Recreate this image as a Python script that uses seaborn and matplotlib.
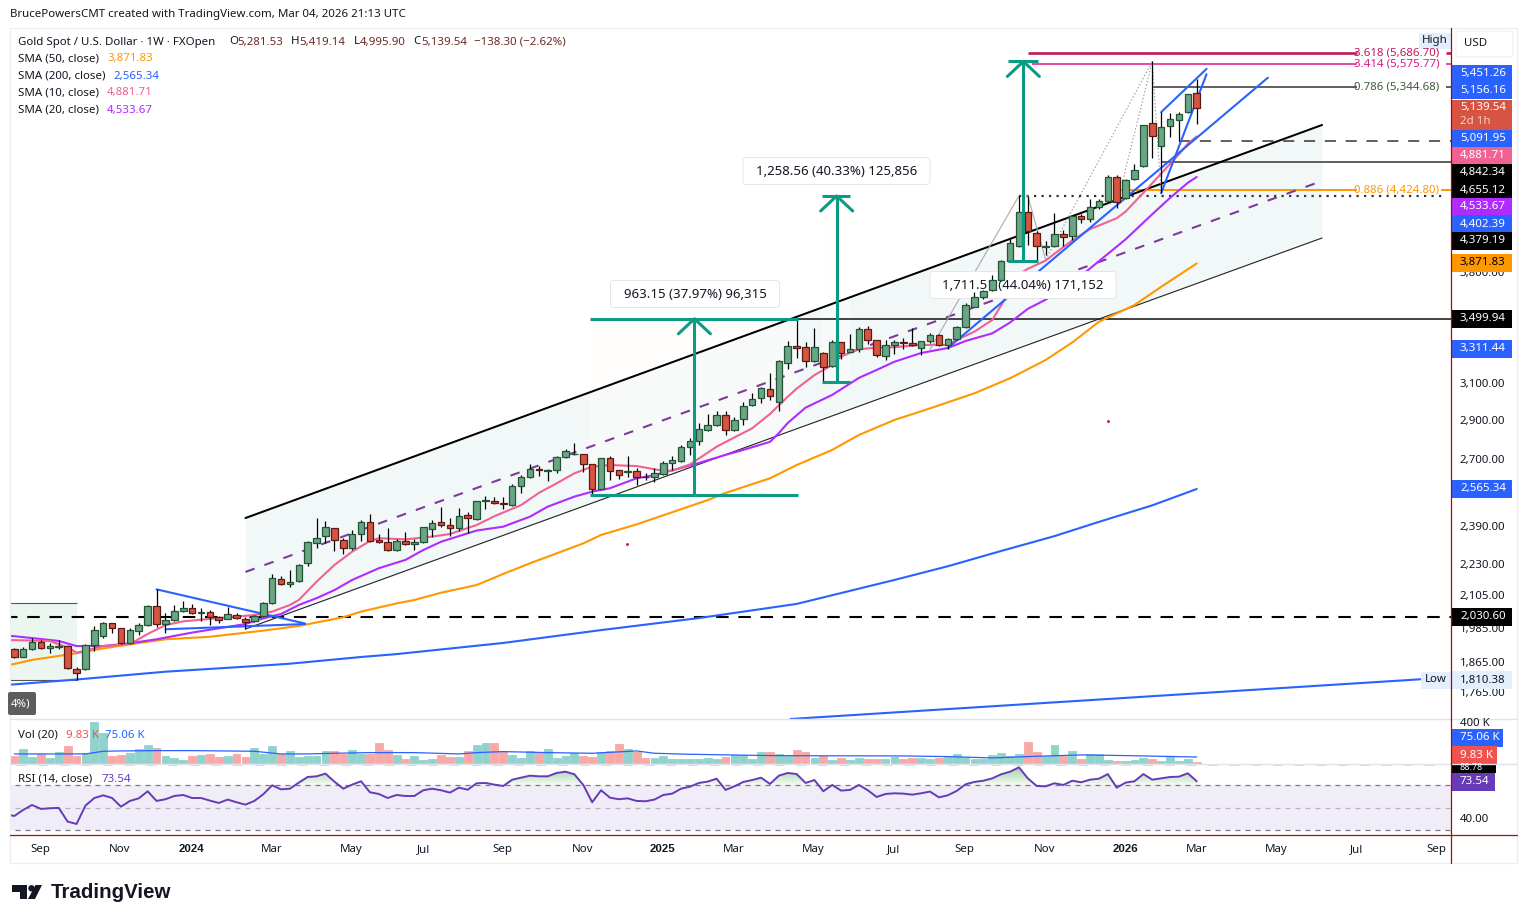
import numpy as np
import pandas as pd
import matplotlib
matplotlib.use("Agg")
import matplotlib.pyplot as plt
import seaborn as sns
from matplotlib.patches import FancyBboxPatch, Rectangle, Circle, Polygon
from matplotlib.ticker import NullLocator, NullFormatter
from matplotlib.transforms import Affine2D

# Weekly XAU/USD candles
opens = [1915,1889,1915,1939,1918,1922,1925,1848,1846,1929,
         1963,2008,1990,1936,1979,2000,2071,2004,2019,2052,
         2063,2045,2049,2030,2025,2038,2022,2015,2033,2082,
         2176,2156,2168,2240,2323,2353,2388,2336,2302,2362,
         2414,2336,2328,2294,2332,2319,2328,2384,2414,2401,
         2388,2445,2427,2511,2509,2501,2493,2578,2621,2660,
         2650,2655,2718,2734,2734,2684,2564,2713,2655,2648,
         2650,2624,2621,2636,2689,2699,2768,2799,2856,2882,
         2935,2856,2913,2989,3027,3077,3005,3227,3329,3323,
         3239,3287,3209,3353,3296,3311,3434,3365,3269,3335,
         3353,3347,3317,3359,3396,3335,3372,3446,3578,3640,
         3687,3755,3887,3995,4251,4091,3988,3995,4084,4069,
         4220,4197,4294,4337,4532,4361,4515,4623,5001,4795,
         4973,5028,5103,5281.53]
highs = [1918,1922,1954,1947,1936,1947,1930,1853,1933,1998,
         2014,2008,1990,1990,2008,2076,2136,2047,2076,2090,
         2079,2066,2057,2036,2067,2045,2032,2038,2089,2196,
         2189,2213,2237,2332,2435,2420,2388,2345,2379,2423,
         2451,2362,2388,2340,2370,2340,2392,2423,2481,2432,
         2477,2459,2509,2533,2527,2527,2588,2631,2685,2675,
         2659,2723,2758,2790,2734,2684,2713,2725,2655,2725,
         2664,2640,2664,2699,2725,2778,2814,2893,2942,2956,
         2956,2927,3005,3055,3089,3169,3245,3359,3499.94,3353,
         3442,3293,3365,3353,3402,3446,3455,3365,3365,3365,
         3378,3440,3363,3409,3402,3378,3454,3600,3676,3689,
         3791,3897,4047,4379.19,4379,4108,4034,4244,4114,4225,
         4235,4353,4353,4548,4548,4515,4640,4983,5597.5,5103,
         5094,5103,5272,5419.14]
lows = [1886,1887,1912,1915,1903,1915,1846,1810,1844,1910,
        1956,1974,1933,1933,1966,1998,1995,1974,2016,2050,
        2042,2017,2002,2010,2022,2022,1986,2014,2032,2080,
        2153,2147,2165,2230,2305,2326,2292,2280,2295,2334,
        2328,2323,2291,2291,2315,2295,2323,2350,2395,2355,
        2376,2369,2424,2475,2496,2473,2489,2548,2616,2627,
        2605,2640,2713,2729,2648,2536.6,2564,2608,2613,2624,
        2582,2608,2600,2631,2656,2693,2730,2778,2850,2878,
        2831,2850,2883,2986,3003,3018,2960,3194,3260,3205,
        3235,3120.6,3207,3251,3293,3296,3344,3263,3247,3281,
        3312,3329,3275,3351,3331,3311,3367,3442,3574,3629,
        3682,3750,3882,3990,4005,3886,3932,3990,3995,4041,
        4166,4174,4274,4329,4282,4355,4509,4615,4691,4402.39,
        4875,4842.34,5094,4995.90]
closes = [1889,1915,1939,1918,1925,1926,1849,1832,1929,1983,
          2008,1992,1936,1982,2000,2071,2004,2019,2052,2063,
          2045,2049,2030,2019,2041,2026,2011,2036,2082,2180,
          2156,2164,2233,2328,2345,2392,2336,2302,2362,2414,
          2332,2328,2294,2332,2319,2328,2392,2409,2401,2388,
          2441,2432,2509,2514,2502,2498,2578,2621,2659,2657,
          2655,2718,2748,2735,2684,2564,2713,2650,2631,2651,
          2621,2621,2640,2689,2703,2768,2799,2861,2882,2935,
          2856,2908,2984,3022,3083,3038,3239,3329,3317,3239,
          3323,3204,3353,3287,3311,3434,3365,3275,3335,3353,
          3347,3335,3359,3396,3335,3372,3446,3587,3640,3680,
          3755,3887,4017,4251,4106,4000,3995,4084,4061,4220,
          4197,4294,4337,4532,4329,4507,4590,4983,4884,4964,
          5037,5084,5272,5139.54]
volumes_k = [92,172,80,108,68,136,212,92,120,496,
             364,92,104,128,172,224,184,92,68,40,
             92,100,116,80,92,116,80,188,116,212,
             116,148,80,92,92,148,148,116,160,116,
             116,244,160,100,52,88,40,52,100,76,
             76,148,220,244,244,148,100,64,148,136,
             172,64,88,124,88,76,136,148,232,172,
             136,64,64,88,52,52,52,52,64,52,
             76,100,100,52,136,136,112,88,160,136,
             64,88,40,64,40,64,52,52,52,76,
             52,64,64,52,64,88,112,76,52,52,
             100,124,88,112,256,136,88,220,88,148,
             52,112,112,40,28,28,40,64,52,28,
             76,28,52,9.83]
# the oscillator starts one week before the first visible candle
rsi_values = [44.5,42.7,48.1,52.5,49,49.6,49.9,37.7,35.6,51.9,58.7,
              61.1,58.7,51,56.1,58.4,64.7,56.1,57.6,60.5,61.4,
              58.7,58.7,56.4,54.3,57.3,54.9,52.8,56.1,62,70,
              66.4,67,72.4,77.4,78,80.4,73.3,67,70.6,73.6,
              63.8,62.3,58.7,61.4,60.5,60.5,65.6,67,65.6,63.5,
              67.9,66.1,71.8,72.1,70.6,69.4,75,76.8,78.6,78,
              78,81,82.1,79.8,70.3,54.9,65.6,59,57.6,58.4,
              56.1,55.8,57.3,61.4,62.6,67,68.8,72.1,73.3,75.9,
              65.9,69.1,73,74.7,76.8,71.2,78.6,81,80,72.1,
              74.7,64.7,70.3,65.3,65.9,70.3,65.6,59.6,62.3,62.9,
              62.6,61.7,62.9,64.4,59.3,61.1,65,70.9,73,74.1,
              76.2,79.8,82.1,86,76.2,69.4,69.1,71.8,70.3,74.1,
              72.7,75,75.9,80,67.9,72.4,73.6,80,75,76.2,
              77.4,77.7,80.7,73.54]

# Moving averages, read at selected weeks
sma10_weeks = [-1,0,4,6,7,8,10,13,15,17,19,24,27,29,31,32,34,36,38,40,41,44,47,49,52,54,57,59,61,63,65,67,70,73,74,76,79,80,83,85,87,88,90,92,93,95,97,99,102,105,106,108,110,111,113,114,116,117,119,121,124,125,127,129,131,132,133]
sma10_vals = [1947,1947,1944,1921,1903,1910,1926,1933,1969,2001,2015,2030,2038,2051,2076,2095,2166,2233,2288,2333,2345,2340,2352,2363,2402,2441,2491,2547,2592,2640,2672,2680,2675,2652,2652,2683,2771,2795,2866,2942,3036,3081,3158,3217,3267,3311,3320,3323,3337,3337,3367,3419,3492,3586,3797,3834,3892,3941,4038,4122,4205,4256,4405,4562,4725,4818,4881.71]
sma20_weeks = [-1,0,3,5,7,10,13,16,20,26,28,30,32,34,36,38,41,44,46,48,52,55,58,60,63,65,67,70,72,75,77,80,82,85,86,87,89,92,95,97,99,102,105,107,110,112,114,116,118,120,123,125,128,130,132,133]
sma20_vals = [1963,1961,1951,1944,1926,1926,1936,1950,1974,2005,2026,2042,2076,2102,2133,2173,2220,2254,2295,2330,2378,2395,2439,2484,2530,2553,2569,2616,2631,2666,2690,2730,2755,2796,2841,2894,2976,3046,3142,3188,3236,3288,3318,3361,3408,3476,3564,3624,3700,3786,3940,4046,4236,4364,4486,4533.67]
sma50_weeks = [-1,0,2,4,7,10,13,17,22,28,32,37,39,43,45,48,52,55,58,61,64,66,70,78,80,85,88,92,95,99,103,108,112,116,119,122,126,129,133]
sma50_vals = [1860,1864,1878,1887,1901,1918,1932,1950,1959,1981,1998,2030,2051,2082,2095,2123,2153,2197,2240,2281,2323,2359,2405,2514,2547,2616,2680,2755,2831,2910,2972,3055,3140,3246,3352,3481,3589,3710,3871.83]
sma200_weeks = [-1,0,7,17,25,31,39,43,55,66,77,88,99,105,111,117,122,128,133]
sma200_vals = [1794,1796,1812,1838,1853,1865,1888,1898,1937,1983,2027,2080,2173,2228,2291,2354,2416,2490,2565.34]
vol_sma_weeks = [0,8,10,12,16,20,27,30,33,36,40,45,50,52,55,60,65,70,72,76,85,90,100,105,110,115,120,125,133]
vol_sma_vals = [112,112,144,148,152,152,144,112,112,120,128,128,112,128,140,128,120,148,120,108,92,90,88,80,64,84,100,92,75.06]

price_ticks = [3800,3100,2900,2700,2390,2230,2105,1985,1865,1765]
date_tick_weeks = [2.9,11.9,19.9,28.9,37.9,46,54.9,63.9,72.9,80.9,89.9,98.9,106.9,115.9,125,133,142,151,160]
date_tick_labels = ["Sep","Nov","2024","Mar","May","Jul","Sep","Nov","2025","Mar","May","Jul","Sep","Nov","2026","Mar","May","Jul","Sep"]

W, H = 1527, 923
sns.set_theme(style="white")
plt.rcParams["font.family"] = ["Noto Sans", "DejaVu Sans"]
plt.rcParams["lines.scale_dashes"] = False
plt.rcParams["axes.unicode_minus"] = False

UP, DOWN = "#6ba583", "#d75442"
UP_EDGE, DOWN_EDGE = "#225437", "#5b1a13"
TEAL = "#0b9a82"
BLUE, PINK, PURPLE, ORANGE = "#2962ff", "#f06292", "#b02bff", "#ff9800"
PT = 0.72   # one pixel in points at 100 dpi
FS = 11.5 * PT


def frame(x0, y0, x1, y1):
    return [x0 / W, 1 - y1 / H, (x1 - x0) / W, (y1 - y0) / H]


fig = plt.figure(figsize=(W / 100, H / 100), dpi=100, facecolor="white")
ax = fig.add_axes(frame(10, 28, 1451, 719))
ax_vol = fig.add_axes(frame(10, 719, 1451, 763.5), sharex=ax)
ax_rsi = fig.add_axes(frame(10, 763.5, 1451, 835), sharex=ax)
pixels = Affine2D().scale(1, -1).translate(0, H)

weeks = np.arange(len(closes))
opens, highs, lows, closes = map(np.array, (opens, highs, lows, closes))
is_up = closes >= opens

# ---- price pane ----
ax.set_yscale("log")

# pale zones behind the price
ax.fill_between([-1, 7.06], 1810.38, 2082, color="#ecf6f0", lw=0, zorder=1)
ax.hlines([2082, 1810.38], -1, 7.06, color="#555555", lw=0.8, zorder=1)
channel_x = [26, 147.1]
ax.fill_between(channel_x, [1987, 4056], [2433, 4985], color="#f2f8f8", lw=0, zorder=1)
for x0, x1, lo, hi in [(64.8, 88.2, 2536.6, 3499.75), (90.9, 94, 3120.6, 4379.19), (111.8, 115.1, 3886, 5597.5)]:
    ax.fill_between([x0, x1], lo, hi, color="#fffdfa", alpha=0.45, lw=0, zorder=1.1)

# horizontal levels
ax.hlines(3499.94, 88.2, 163, color="#333333", lw=1.3, zorder=2)
ax.hlines(2030.60, -1, 163, color="black", lw=1.5, ls=(0, (9, 7)), zorder=2)
ax.hlines(5344.68, 128, 151, color="#444444", lw=1.2, zorder=2)
ax.hlines(5344.68, 161, 163, color="#444444", lw=1.2, zorder=2)
ax.hlines(4842.34, 131, 163, color="#444444", lw=1.2, ls=(0, (8, 7)), zorder=2)
ax.hlines(4655.12, 129, 163, color="#444444", lw=1.2, zorder=2)
ax.hlines(4424.80, 124.5, 151, color=ORANGE, lw=1.4, zorder=2)
ax.hlines(4424.80, 160.5, 163, color=ORANGE, lw=1.4, zorder=2)
ax.hlines(4379.19, 113, 161, color="#333333", lw=1.6, ls=(0, (1.6, 3.8)), zorder=2)
ax.hlines(5686.70, 114, 151, color="#c2185b", lw=1.9, zorder=2)
ax.hlines(5686.70, 161, 161.6, color="#c2185b", lw=1.9, zorder=2)
ax.hlines(5575.77, 114.5, 151, color="#d81b8a", lw=1.1, zorder=2)
ax.hlines(5575.77, 161, 161.6, color="#d81b8a", lw=1.1, zorder=2)

# regression channel
ax.plot(channel_x, [2433, 4985], color="black", lw=1.45, zorder=2.2)
ax.plot(channel_x, [1987, 4056], color="#222222", lw=0.8, zorder=2.2)
ax.plot(channel_x, [2205, 4501], color="#7d3c98", lw=1.5, ls=(0, (7, 7.5)), zorder=2.2)

# moving averages
for xs, ys, col, lw in [(sma200_weeks, sma200_vals, BLUE, 1.5),
                        (sma50_weeks, sma50_vals, ORANGE, 1.5),
                        (sma20_weeks, sma20_vals, PURPLE, 1.5),
                        (sma10_weeks, sma10_vals, PINK, 1.5)]:
    sns.lineplot(x=xs, y=ys, ax=ax, color=col, lw=lw, estimator=None, errorbar=None,
                 legend=False, zorder=2.4)

# blue trend lines
for xy in [((16, 2136), (32.7, 2007)), ((17, 1986), (32.7, 2005)), ((105, 3318), (141, 5434)),
           ((129, 4402.39), (134.1, 5468)), ((129, 5103), (134.1, 5522)), ((87.3, 1686), (158.3, 1813))]:
    ax.plot([xy[0][0], xy[1][0]], [xy[0][1], xy[1][1]], color=BLUE, lw=1.5, zorder=2.6)

# fibonacci guide lines
for xy in [((103, 3309), (113, 4379.19)), ((114, 4379.19), (116, 3900))]:
    ax.plot([xy[0][0], xy[1][0]], [xy[0][1], xy[1][1]], color="#aaaaaa", lw=0.8, zorder=2.7)
for xy in [((116, 3900), (128, 5597.5)), ((124.6, 4480), (128, 5597.5)), ((128, 5597.5), (129, 4402.39))]:
    ax.plot([xy[0][0], xy[1][0]], [xy[0][1], xy[1][1]], color="#999999", lw=0.8, ls=(0, (1, 1.5)), zorder=2.7)

# measurement captions sit under the candles
for cx, cy, w, txt in [(695, 294, 169, "963.15 (37.97%) 96,315"),
                       (836.5, 171, 187, "1,258.56 (40.33%) 125,856"),
                       (1023, 285, 186, "1,711.51 (44.04%) 171,152")]:
    ax.add_patch(FancyBboxPatch((cx - w / 2 + 3, cy - 10.5), w - 6, 21, boxstyle="round,pad=3",
                                transform=pixels, fc="white", ec="#e6e6ea", lw=0.7, zorder=3, clip_on=False))
    ax.text(cx, cy + 0.5, txt, transform=pixels, ha="center", va="center", fontsize=13.2 * PT,
            color="#131722", zorder=3.1)

# candles
ax.vlines(weeks, lows, highs, color="black", lw=0.9, zorder=3.5)
for flag, face, edge in [(is_up, UP, UP_EDGE), (~is_up, DOWN, DOWN_EDGE)]:
    body_lo = np.minimum(opens, closes)[flag]
    body_hi = np.maximum(opens, closes)[flag]
    ax.bar(weeks[flag], body_hi - body_lo, bottom=body_lo, width=0.74, color=face,
           edgecolor=edge, linewidth=0.9, zorder=3.6)

# measurement arrows
def measure(x0, x1, xc, lo, hi):
    ax.hlines([lo, hi], x0, x1, color=TEAL, lw=2.2, zorder=4)
    ax.vlines(xc, lo, hi, color=TEAL, lw=2.2, zorder=4)
    drop = np.exp(-15 / 548)
    ax.plot([xc - 1.8, xc, xc + 1.8], [hi * drop, hi, hi * drop], color=TEAL, lw=2.2, zorder=4)


measure(64.8, 88.2, 76.5, 2536.6, 3499.75)
measure(90.9, 94, 92.5, 3120.6, 4379.19)
measure(111.8, 115.1, 113.5, 3886, 5597.5)

# isolated marks
ax.plot([68.9, 123], [2320, 2904], ls="none", marker="o", ms=1.1, color="#c2185b", zorder=2)

ax.set_xlim(-0.484, 161.6)
ax.set_ylim(1686, 5950)
ax.yaxis.tick_right()
ax.set_yticks(price_ticks)
ax.set_yticklabels([f"{v:,.2f}" for v in price_ticks], fontsize=FS, color="#131722")
ax.yaxis.set_minor_locator(NullLocator())
ax.yaxis.set_minor_formatter(NullFormatter())
ax.tick_params(axis="y", length=0, pad=6.4)
ax.tick_params(axis="x", length=0, labelbottom=False)
# the scale's captions sit a touch above their gridline
for tick in ax.yaxis.get_major_ticks():
    tick.label2.set_transform(tick.label2.get_transform() + Affine2D().translate(0, 2))
ax.set_xlabel("")
ax.set_ylabel("")

# ---- volume pane ----
bar_colors = ["#92d2cc" if u else "#f7a9a7" for u in is_up]
ax_vol.bar(weeks, volumes_k, width=0.88, color=bar_colors, linewidth=0.6, edgecolor=bar_colors, zorder=2)
sns.lineplot(x=vol_sma_weeks, y=vol_sma_vals, ax=ax_vol, color=BLUE, lw=0.9, estimator=None,
             errorbar=None, legend=False, zorder=3)
ax_vol.set_ylim(-3, 532)
ax_vol.set_yticks([])
ax_vol.tick_params(axis="x", length=0, labelbottom=False)
ax_vol.set_xlabel("")
ax_vol.set_ylabel("")

# ---- RSI pane ----
ax_rsi.fill_between([-1, 163], 30, 70, color="#f0edf8", lw=0, zorder=1)
rsi_arr = np.array(rsi_values)
rsi_weeks = np.arange(-1, len(closes))
# overbought wash deepens toward the line
for level in range(70, 88, 2):
    ax_rsi.fill_between(rsi_weeks, level, rsi_arr, where=rsi_arr > level, interpolate=True,
                        color="#4caf50", alpha=0.07, lw=0, zorder=1.5)
ax_rsi.hlines([70, 30], -1, 163, color="#787b86", lw=0.9, ls=(0, (3.6, 3.6)), zorder=2)
ax_rsi.hlines(50, -1, 163, color="#b5b3bd", lw=0.9, ls=(0, (3.6, 3.6)), zorder=2)
ax_rsi.hlines(88.78, 0.2, 161, color="#444444", lw=1, ls=(0, (7, 8.6)), zorder=2)
sns.lineplot(x=rsi_weeks, y=rsi_arr, ax=ax_rsi, color="#673ab7", lw=1.4, estimator=None, errorbar=None,
             legend=False, zorder=3)
ax_rsi.set_ylim(25.8, 89.4)
ax_rsi.set_yticks([])
ax_rsi.set_xticks(date_tick_weeks)
ax_rsi.set_xticklabels(date_tick_labels, fontsize=FS, color="#131722")
for lbl in ax_rsi.get_xticklabels():
    if lbl.get_text().startswith("20"):
        lbl.set_fontfamily("Liberation Sans")
        lbl.set_fontweight("bold")
ax_rsi.tick_params(axis="x", length=0, pad=6.5)
ax_rsi.set_xlabel("")
ax_rsi.set_ylabel("")

for a in (ax, ax_vol, ax_rsi):
    for s in a.spines.values():
        s.set_visible(False)
    a.patch.set_alpha(0)
    a.grid(False)

# ---- chrome drawn in figure pixels ----
ov = fig.add_axes([0, 0, 1, 1], zorder=10)
ov.set_xlim(0, W)
ov.set_ylim(H, 0)
ov.axis("off")

ov.add_patch(Rectangle((10, 28), 1507, 835, fc="none", ec="#eceef2", lw=0.9))
for yy in (719, 763.5):
    ov.plot([10, 1517], [yy, yy], color="#e0e3eb", lw=1)
ov.plot([10, 1517], [835, 835], color="#c00000", lw=0.9)
ov.plot([1451, 1451], [28, 863], color="#c00000", lw=0.9)


def text(x, y, s, color="#131722", **kw):
    kw.setdefault("fontsize", FS)
    kw.setdefault("va", "center")
    return ov.text(x, y, s, color=color, **kw)


text(10, 15, "BrucePowersCMT created with TradingView.com, Mar 04, 2026 21:13 UTC")

# legend rows
text(18, 42, "Gold Spot / U.S. Dollar · 1W · FXOpen")
BROWN = "#6e2a24"
for x, letter, vx, val in [(229, "O", 237, "5,281.53"), (291, "H", 299, "5,419.14"),
                           (354, "L", 360, "4,995.90"), (413, "C", 421, "5,139.54")]:
    text(x, 42, letter)
    text(vx, 42, val, color=BROWN)
text(474, 42, "\u2212138.30 (\u22122.62%)", color=BROWN)
for y, name, vx, val, col in [(59, "SMA (50, close)", 107, "3,871.83", ORANGE),
                              (76, "SMA (200, close)", 113, "2,565.34", BLUE),
                              (93, "SMA (10, close)", 107, "4,881.71", PINK),
                              (110, "SMA (20, close)", 107, "4,533.67", PURPLE)]:
    text(18, y, name)
    text(vx, y, val, color=col)
text(18, 735, "Vol (20)")
text(66, 735, "9.83 K", color="#ef5350")
text(105, 735, "75.06 K", color=BLUE)
text(18, 779, "RSI (14, close)")
text(101, 779, "73.54", color="#673ab7")

# fibonacci captions
text(1354, 53, "3.618 (5,686.70)", color="#c2185b")
text(1354, 63.5, "3.414 (5,575.77)", color="#d81b8a")
text(1354, 87, "0.786 (5,344.68)", color="#3d5a3d")
text(1354, 190, "0.886 (4,424.80)", color=ORANGE)

# stub of the price-level caption clipped at the pane edge
ov.add_patch(FancyBboxPatch((10, 694), 24, 19, boxstyle="round,pad=2", fc="#5d5d5d", ec="none"))
text(11, 703.5, "4%)", color="white")

# price tags on the scale
def tag(y, s, bg, fg="white", x1=1512, h=17.3):
    ov.add_patch(Rectangle((1451.5, y - h / 2), x1 - 1451.5, h, fc=bg, ec="none"))
    text(1460, y, s, color=fg, fontweight=500)


text(1460, 724, "400 K")
ov.add_patch(Rectangle((1451.5, 764), 44, 9, fc="black", ec="none"))
text(1460, 767.5, "88.78", color="white", fontsize=9 * PT)
tag(73.3, "5,451.26", BLUE)
tag(90.7, "5,156.16", BLUE)
ov.add_patch(Rectangle((1451.5, 100), 60.5, 30.7, fc="#d75442", ec="none"))
text(1460, 107.7, "5,139.54", color="white", fontweight=500)
text(1460, 121.7, "2d 1h", color="#f4cfc9")
tag(138.3, "5,091.95", BLUE)
tag(155.7, "4,881.71", PINK)
tag(172.7, "4,842.34", "black")
tag(190, "4,655.12", "black")
tag(206.7, "4,533.67", PURPLE)
tag(224, "4,402.39", BLUE)
tag(241, "4,379.19", "black")
tag(263, "3,871.83", ORANGE, fg="black")
tag(319, "3,499.94", "black")
tag(349, "3,311.44", BLUE)
tag(489, "2,565.34", BLUE)
tag(617, "2,030.60", "black")
tag(680, "1,810.38", "#e3effd", fg="#131722")
ov.add_patch(Rectangle((1421, 671.5), 30, 17, fc="#e3effd", ec="none"))
text(1436, 680, "Low", ha="center")
ov.add_patch(Rectangle((1419, 33), 32, 16, fc="#e3effd", ec="none"))
text(1435, 41, "High", ha="center")
tag(738, "75.06 K", BLUE, x1=1503)
tag(755, "9.83 K", "#ef5350", x1=1497)
tag(782, "73.54", "#673ab7", x1=1495)
text(1460, 819.5, "40.00")

ov.add_patch(FancyBboxPatch((1458, 33), 53, 22, boxstyle="round,pad=2", fc="white", ec="#eceef2", lw=0.8))
text(1464, 44, "USD")

# wordmark
ov.add_patch(Polygon([(12, 885), (27, 885), (27, 899), (19.5, 899), (19.5, 892), (12, 892)], fc="#131722", ec="none"))
ov.add_patch(Circle((31.5, 888.3), 3.2, fc="#131722", ec="none"))
ov.add_patch(Polygon([(35.5, 885), (42, 885), (35, 899), (28, 899)], fc="#131722", ec="none"))
text(51, 893, "TradingView", fontsize=20.5 * PT, fontweight="bold", family="Liberation Sans")

fig.savefig("out.png", dpi=100, facecolor="white")
